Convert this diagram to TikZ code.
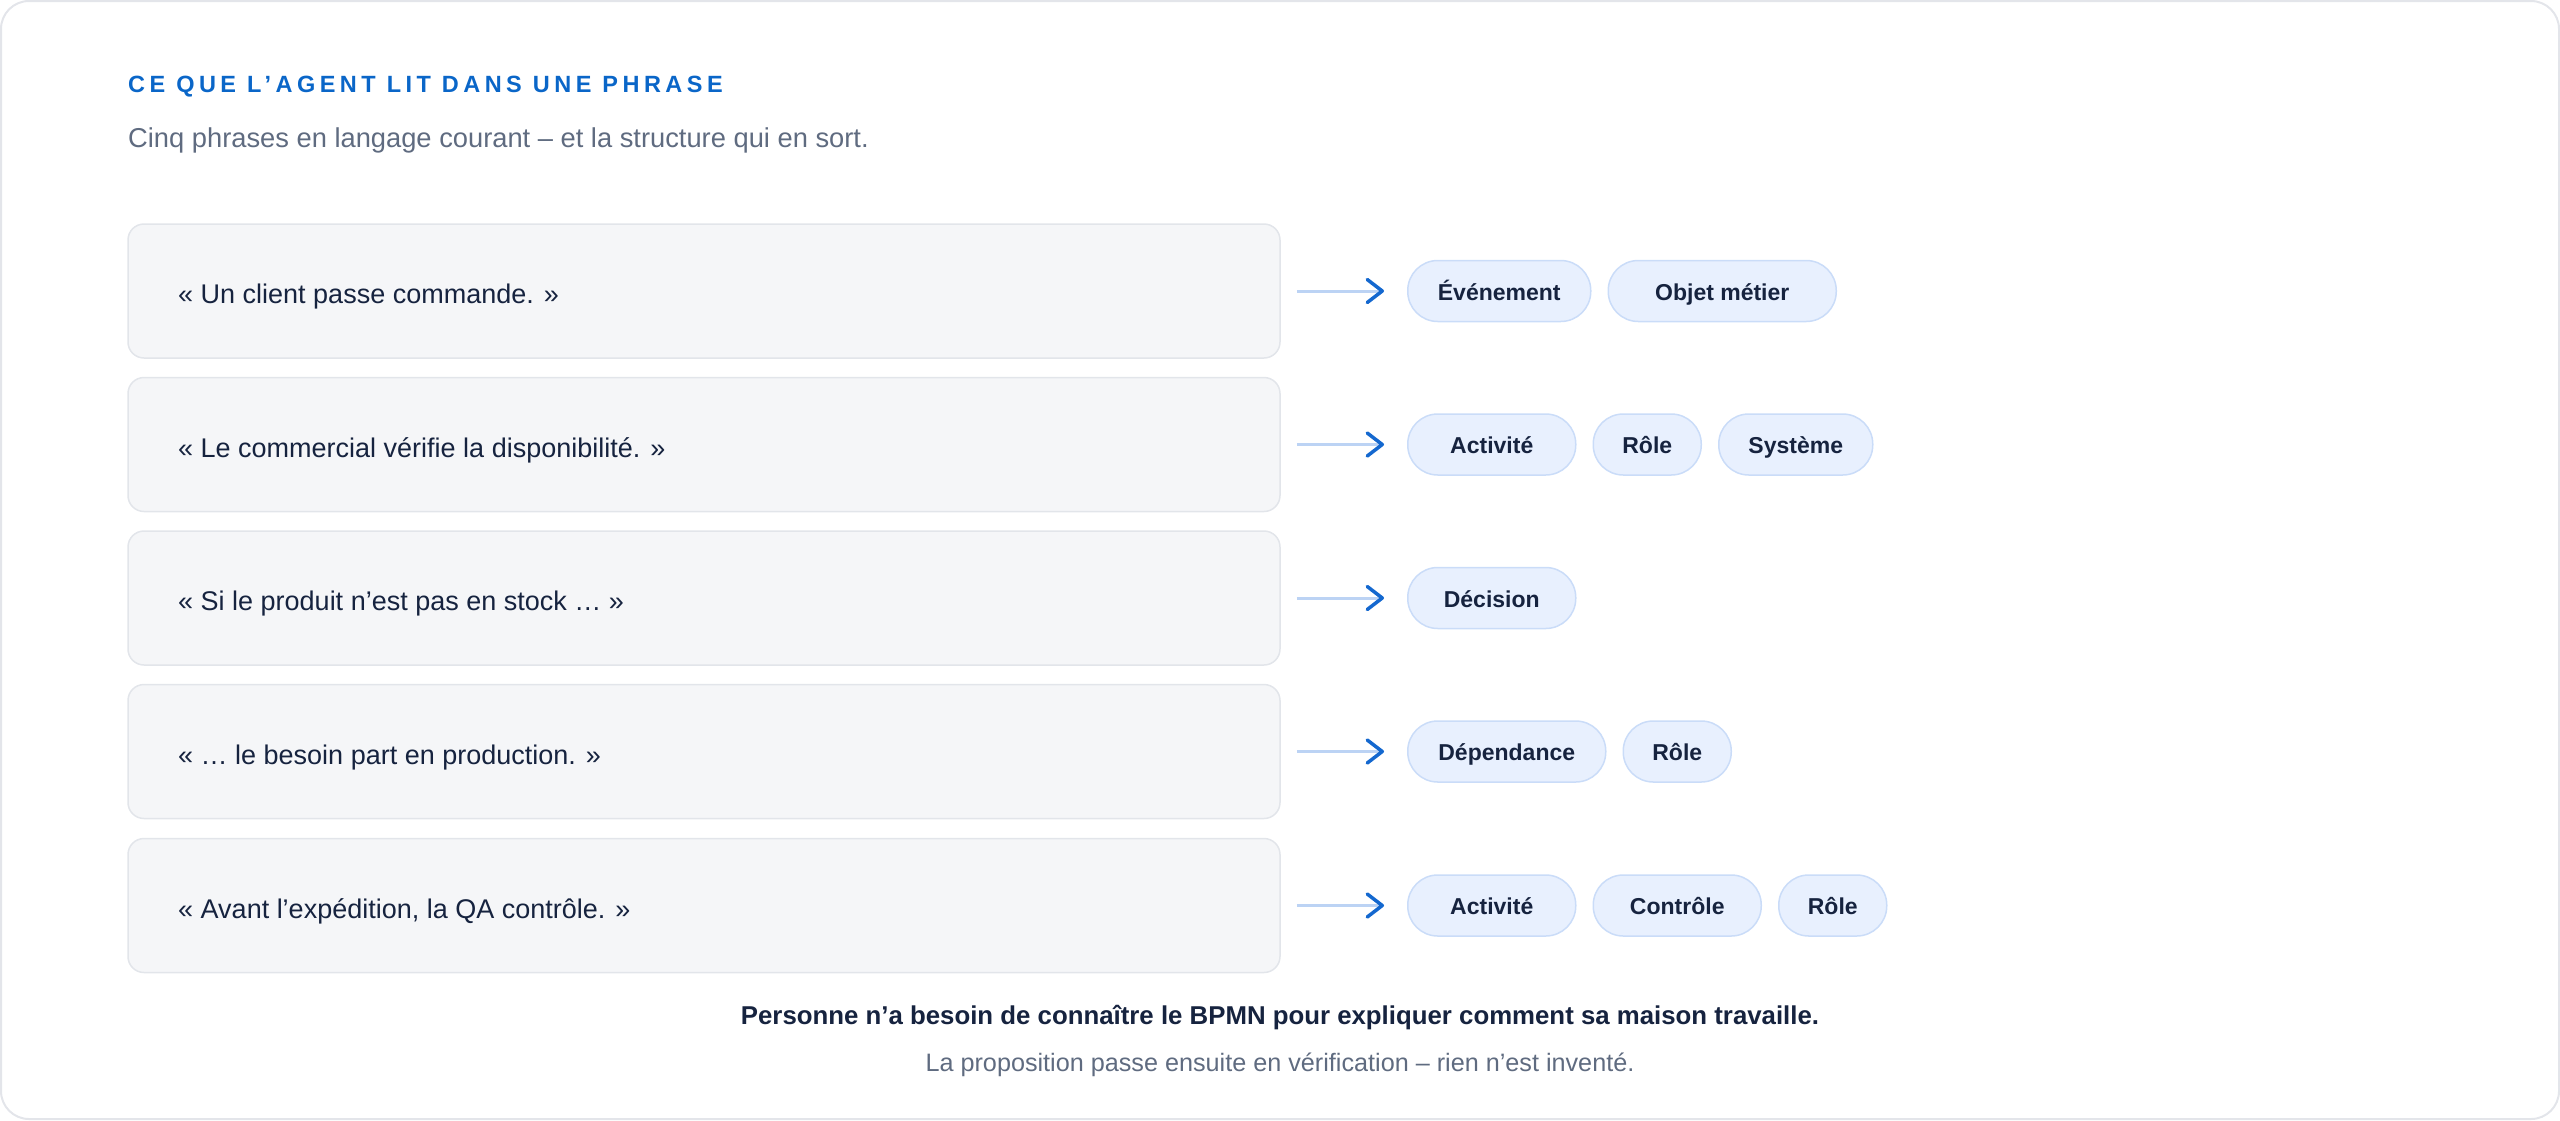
\documentclass[tikz,border=0pt]{standalone}
\usepackage{fontspec}
\setmainfont{Liberation Sans}
\newfontfamily\spacedfont{Liberation Sans}[LetterSpace=19]
\usetikzlibrary{arrows.meta}
\definecolor{navy}{HTML}{16233F}
\definecolor{titleblue}{HTML}{0A66C8}
\definecolor{subgray}{HTML}{5F6B80}
\definecolor{boxfill}{HTML}{F5F6F8}
\definecolor{boxline}{HTML}{E2E5EA}
\definecolor{chipfill}{HTML}{E8F0FE}
\definecolor{chipline}{HTML}{CADCF8}
\definecolor{connline}{HTML}{BCD3F4}
\definecolor{tipblue}{HTML}{1468CF}
\definecolor{frame}{HTML}{E3E5EA}
\begin{document}
\begin{tikzpicture}[x=1pt,y=-1pt,
  sentbox/.style={draw=boxline, fill=boxfill, line width=1.5pt, rounded corners=16pt,
    minimum width=1152pt, minimum height=134pt, inner sep=0pt},
  senttext/.style={anchor=base west, inner sep=0pt, text=navy, font=\fontsize{27pt}{32pt}\selectfont},
  chip/.style={draw=chipline, fill=chipfill, line width=1.5pt, rounded corners=30pt,
    minimum height=61pt, inner sep=0pt, text height=18pt, text depth=0pt,
    text=navy, font=\fontsize{23pt}{28pt}\selectfont\bfseries},
  conn/.style={draw=connline, line width=3pt, shorten <=16pt, shorten >=23pt,
    -{Straight Barb[length=15pt, width=23pt, line width=3.5pt, color=tipblue, round]}}
]
\useasboundingbox (0,0) rectangle (2560,1120);
\draw[frame, line width=2pt, rounded corners=28pt] (1,1) rectangle (2559,1119);

\node[anchor=base west, inner sep=0pt, text=titleblue, font=\fontsize{23.5pt}{28pt}\spacedfont\bfseries] (title) at (128,92.5) {CE QUE L’AGENT LIT DANS UNE PHRASE};
\node[anchor=base west, inner sep=0pt, text=subgray, font=\fontsize{27.3pt}{32pt}\selectfont] (sub) at (128,147) {Cinq phrases en langage courant – et la structure qui en sort.};

% sentence boxes
\node[sentbox] (b1) at (704,291) {};
\node[sentbox] (b2) at (704,444.5) {};
\node[sentbox] (b3) at (704,598) {};
\node[sentbox] (b4) at (704,751.5) {};
\node[sentbox] (b5) at (704,905.5) {};
\node[senttext] (t1) at (178,303.5) {« Un client passe commande. »};
\node[senttext] (t2) at (178,457) {« Le commercial vérifie la disponibilité. »};
\node[senttext] (t3) at (178,610.5) {« Si le produit n’est pas en stock … »};
\node[senttext] (t4) at (178,764) {« … le besoin part en production. »};
\node[senttext] (t5) at (178,918) {« Avant l’expédition, la QA contrôle. »};

% chips
\node[chip, minimum width=183pt, anchor=west] (c11) at (1407,291) {Événement};
\node[chip, minimum width=228pt, anchor=west] (c12) at ([xshift=16pt]c11.east) {Objet métier};

\node[chip, minimum width=168pt, anchor=west] (c21) at (1407,444.5) {Activité};
\node[chip, minimum width=108pt, anchor=west] (c22) at ([xshift=16pt]c21.east) {Rôle};
\node[chip, minimum width=154pt, anchor=west] (c23) at ([xshift=16pt]c22.east) {Système};

\node[chip, minimum width=168pt, anchor=west] (c31) at (1407,598) {Décision};

\node[chip, minimum width=198pt, anchor=west] (c41) at (1407,751.5) {Dépendance};
\node[chip, minimum width=108pt, anchor=west] (c42) at ([xshift=16pt]c41.east) {Rôle};

\node[chip, minimum width=168pt, anchor=west] (c51) at (1407,905.5) {Activité};
\node[chip, minimum width=168pt, anchor=west] (c52) at ([xshift=16pt]c51.east) {Contrôle};
\node[chip, minimum width=108pt, anchor=west] (c53) at ([xshift=16pt]c52.east) {Rôle};

% connectors
\draw[conn] (b1.east) -- (c11.west);
\draw[conn] (b2.east) -- (c21.west);
\draw[conn] (b3.east) -- (c31.west);
\draw[conn] (b4.east) -- (c41.west);
\draw[conn] (b5.east) -- (c51.west);

% footer
\node[anchor=base, inner sep=0pt, text=navy, font=\fontsize{25.8pt}{31pt}\selectfont\bfseries] (f1) at (1280,1024) {Personne n’a besoin de connaître le BPMN pour expliquer comment sa maison travaille.};
\node[anchor=base, inner sep=0pt, text=subgray, font=\fontsize{25.2pt}{30pt}\selectfont] (f2) at (1280,1071) {La proposition passe ensuite en vérification – rien n’est inventé.};
\end{tikzpicture}
\end{document}
